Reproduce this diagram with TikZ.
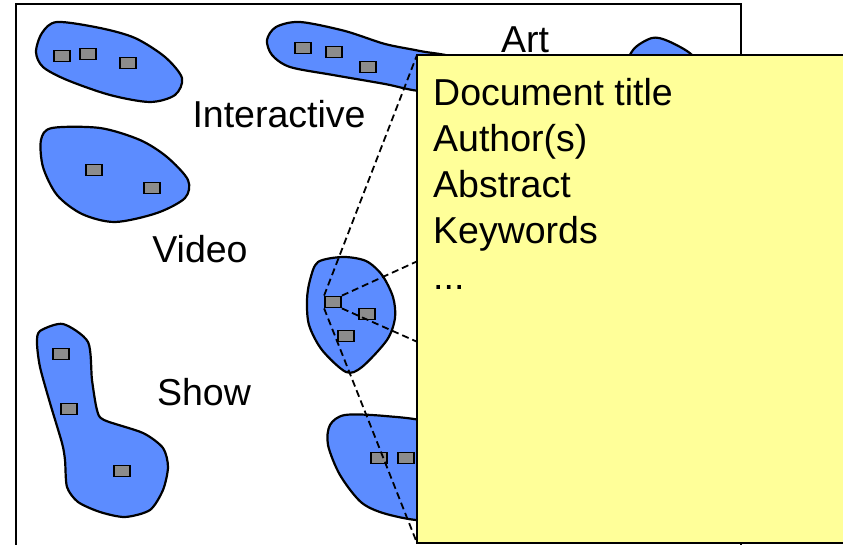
\documentclass[tikz,border=0pt]{standalone}
\usepackage{fontspec}
\setmainfont{Liberation Sans}
\usepackage{tikz}
\usetikzlibrary{positioning}
\definecolor{clusterblue}{RGB}{92, 140, 255}
\definecolor{docgray}{RGB}{140, 140, 140}
\definecolor{noteyellow}{RGB}{255, 255, 153}

\begin{document}
\begin{tikzpicture}[
    x=1pt, y=-1pt,
    cluster/.style={draw, line width=2.2pt, fill=clusterblue},
    doc/.style={rectangle, draw, fill=docgray, line width=1.8pt, minimum width=16pt, minimum height=11pt, inner sep=0pt},
    topic/.style={font=\fontsize{37.5}{46}\selectfont, inner sep=0pt, anchor=base},
    link/.style={dash pattern=on 7pt off 4pt, line width=1.8pt},
    note/.style={draw, line width=2pt, fill=noteyellow}
]
\useasboundingbox (0,0) rectangle (843,545);
\clip (0,0) rectangle (843,545);

% collection frame
\draw[line width=1.8pt, fill=white] (16,4) rectangle (741,570);

% clusters
\draw[cluster] plot[smooth cycle] coordinates {(36,52) (42,33) (57,22) (100,28) (135,38) (165,57) (182,78) (175,95) (150,102) (110,95) (67,80) (43,67)};
\draw[cluster] plot[smooth cycle] coordinates {(41,140) (52,128) (100,128) (140,140) (167,157) (188,180) (185,198) (157,213) (115,222) (82,214) (57,195) (43,167)};
\draw[cluster] plot[smooth cycle] coordinates {(267,40) (276,27) (300,22) (345,31) (385,44) (420,51) (460,60) (465,90) (420,91) (385,84) (333,75) (290,67) (272,55)};
\draw[cluster] plot[smooth cycle] coordinates {(625,75) (633,50) (652,38) (668,41) (692,55) (700,75) (660,90)};
\draw[cluster] plot[smooth cycle] coordinates {(318,262) (343,257) (366,261) (382,275) (393,297) (395,318) (387,340) (362,367) (346,372) (322,350) (309,325) (307,300) (310,280)};
\draw[cluster] plot[smooth cycle] coordinates {(330,425) (345,415) (385,416) (430,423) (465,450) (465,500) (430,520) (390,515) (362,503) (340,475) (328,445)};
\draw[cluster] plot[smooth cycle, tension=0.45] coordinates {(37,343) (40,331) (63,324) (88,342) (92,380) (97,410) (104,420) (143,433) (163,448) (168,467) (163,490) (150,510) (125,517) (100,512) (78,502) (67,487) (65,460) (62,443) (50,403) (40,367)};

% documents
\node[doc] (a1) at (62,56) {};
\node[doc] (a2) at (88,54) {};
\node[doc] (a3) at (128,63) {};
\node[doc] (b1) at (94,170) {};
\node[doc] (b2) at (152,188) {};
\node[doc] (c1) at (303,48) {};
\node[doc] (c2) at (334,52) {};
\node[doc] (c3) at (368,67) {};
\node[doc] (sel) at (333,302) {};
\node[doc] (e2) at (367,314) {};
\node[doc] (e3) at (346,336) {};
\node[doc] (f1) at (379,458) {};
\node[doc] (f2) at (406,458) {};
\node[doc] (g1) at (61,354) {};
\node[doc] (g2) at (69,409) {};
\node[doc] (g3) at (122,471) {};

% topics
\node[topic] (interactive) at (279,128) {Interactive};
\node[topic] (video) at (200,262) {Video};
\node[topic] (show) at (204,405) {Show};
\node[topic] (art) at (525,53) {Art};

% zoom onto the selected document
\coordinate (infoNW) at (417,55);
\coordinate (infoNE) at (870,55);
\coordinate (infoSW) at (417,543);
\coordinate (infoSE) at (870,543);

\draw[link] (sel.north west) -- (infoNW);
\draw[link] (sel.north east) -- (infoNE);
\draw[link] (sel.south east) -- (infoSE);
\draw[link] (sel.south west) -- (infoSW);

\draw[note] (infoNW) rectangle (infoSE);
\node[below right=23pt and 16pt of infoNW, inner sep=0pt, align=left, font=\fontsize{37.5}{46}\selectfont] (fields) {Document title\\Author(s)\\Abstract\\Keywords\\...};

\end{tikzpicture}
\end{document}
